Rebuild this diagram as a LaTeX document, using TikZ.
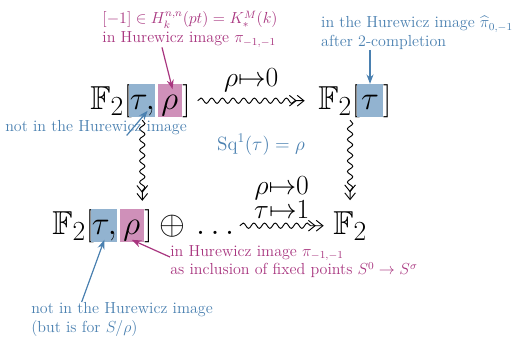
\documentclass[tikz,border=0pt]{standalone}
\usepackage{amsmath,amssymb}
\usetikzlibrary{arrows.meta,positioning,decorations.pathmorphing,calc}
\definecolor{hblue}{HTML}{4A80B0}
\definecolor{hmag}{HTML}{A8357F}

\begin{document}
\begin{tikzpicture}[
  x=0.75pt, y=-0.75pt,
  big/.style={font=\Huge, inner sep=0pt, anchor=base west},
  hl/.style={fill=#1, font=\Huge, inner ysep=0pt, inner xsep=2.8pt, text height=18.7pt, text depth=6.2pt, anchor=base west},
  squig/.style={-{Straight Barb[length=5pt,width=8pt]Straight Barb[length=5pt,width=8pt]}, line width=0.7pt, decorate, decoration={snake, amplitude=2pt, segment length=8pt, post length=7pt}},
  note/.style={font=\large, align=left, inner sep=0pt, text=#1},
  barr/.style={-{Stealth[length=7pt]}, line width=0.9pt, draw=hblue},
  marr/.style={-{Stealth[length=7pt]}, line width=0.9pt, draw=hmag},
]
\useasboundingbox (0,0) rectangle (531,355);

% top row
\node[big] (fa) at (90,109) {$\mathbb{F}_2[$};
\node[hl=hblue!60, inner xsep=0.3pt, right=-2.5pt of fa.base east, anchor=base west] (ta) {$\tau,$};
\node[hl=hmag!55, right=1.5pt of ta.base east, anchor=base west] (ra) {$\rho$};
\node[big, right=0pt of ra.base east, anchor=base west] (rba) {$]$};

\node[big] (fb) at (318,109) {$\mathbb{F}_2[$};
\node[hl=hblue!60, right=-2.5pt of fb.base east, anchor=base west] (tb) {$\tau$};
\node[big, right=0pt of tb.base east, anchor=base west] (rbb) {$]$};

% bottom row
\node[big] (fc) at (52,234) {$\mathbb{F}_2[$};
\node[hl=hblue!60, inner xsep=0.3pt, right=-2.5pt of fc.base east, anchor=base west] (tc) {$\tau,$};
\node[hl=hmag!55, right=1.5pt of tc.base east, anchor=base west] (rc) {$\rho$};
\node[big, right=0pt of rc.base east, anchor=base west] (rbc) {$]$};
\node[big, right=4.5pt of rbc.base east, anchor=base west] (dots) {${\oplus}\,\ldots$};

\node[big] (fd) at (333,234) {$\mathbb{F}_2$};

% maps
\draw[squig] ([xshift=5pt]rba.east) -- ([xshift=-10pt]fb.west)
  node[midway, above=3pt, font=\huge] (mapa) {$\rho{\mapsto}0$};
\draw[squig] ([xshift=4pt]dots.east |- rbc.east) -- ([xshift=-7pt]fd.west |- rbc.east)
  node[midway, above=2pt, font=\huge, align=center] (mapb) {$\rho{\mapsto}0$\\[-7pt]$\tau{\mapsto}1$};
\draw[squig] ([yshift=-2pt]ta.south) -- ([yshift=6pt]ta.south |- rc.north);
\draw[squig] ([yshift=-2pt]fd.north |- tb.south) -- ([yshift=8pt]fd.north);

\node[font=\Large, text=hblue] (sq) at (261,145) {$\mathrm{Sq}^1(\tau)=\rho$};

% Hurewicz remarks
\node[note=hmag] (hkl) at (190,29) {$[-1]\in H^{n,n}_k(pt)=K^M_*(k)$\\in Hurewicz image $\pi_{-1,-1}$};
\draw[marr] ([xshift=-21pt]hkl.south) -- ([xshift=2pt,yshift=-4pt]ra.north);

\node[note=hblue] (hur) at (417,33) {in the Hurewicz image $\widehat{\pi}_{0,-1}$\\after 2-completion};
\draw[barr] (hur.south -| tb.north) -- (tb.north);

\node[note=hblue] (nota) at (96,128) {not in the Hurewicz image};
\draw[barr] ([xshift=23pt]nota.south) -- ([xshift=4pt,yshift=5pt]ta.south);

\node[note=hmag, anchor=north west] (incl) at (170,245) {in Hurewicz image $\pi_{-1,-1}$\\as inclusion of fixed points $S^0\to S^\sigma$};
\draw[marr] ([yshift=-9pt]incl.north west) -- ([yshift=2pt]rc.south);

\node[note=hblue, anchor=north west] (notb) at (31,302) {not in the Hurewicz image\\(but is for $S/\rho$)};
\draw[barr] ([xshift=38pt]notb.north west) -- ([yshift=2pt]tc.south);

\end{tikzpicture}
\end{document}
